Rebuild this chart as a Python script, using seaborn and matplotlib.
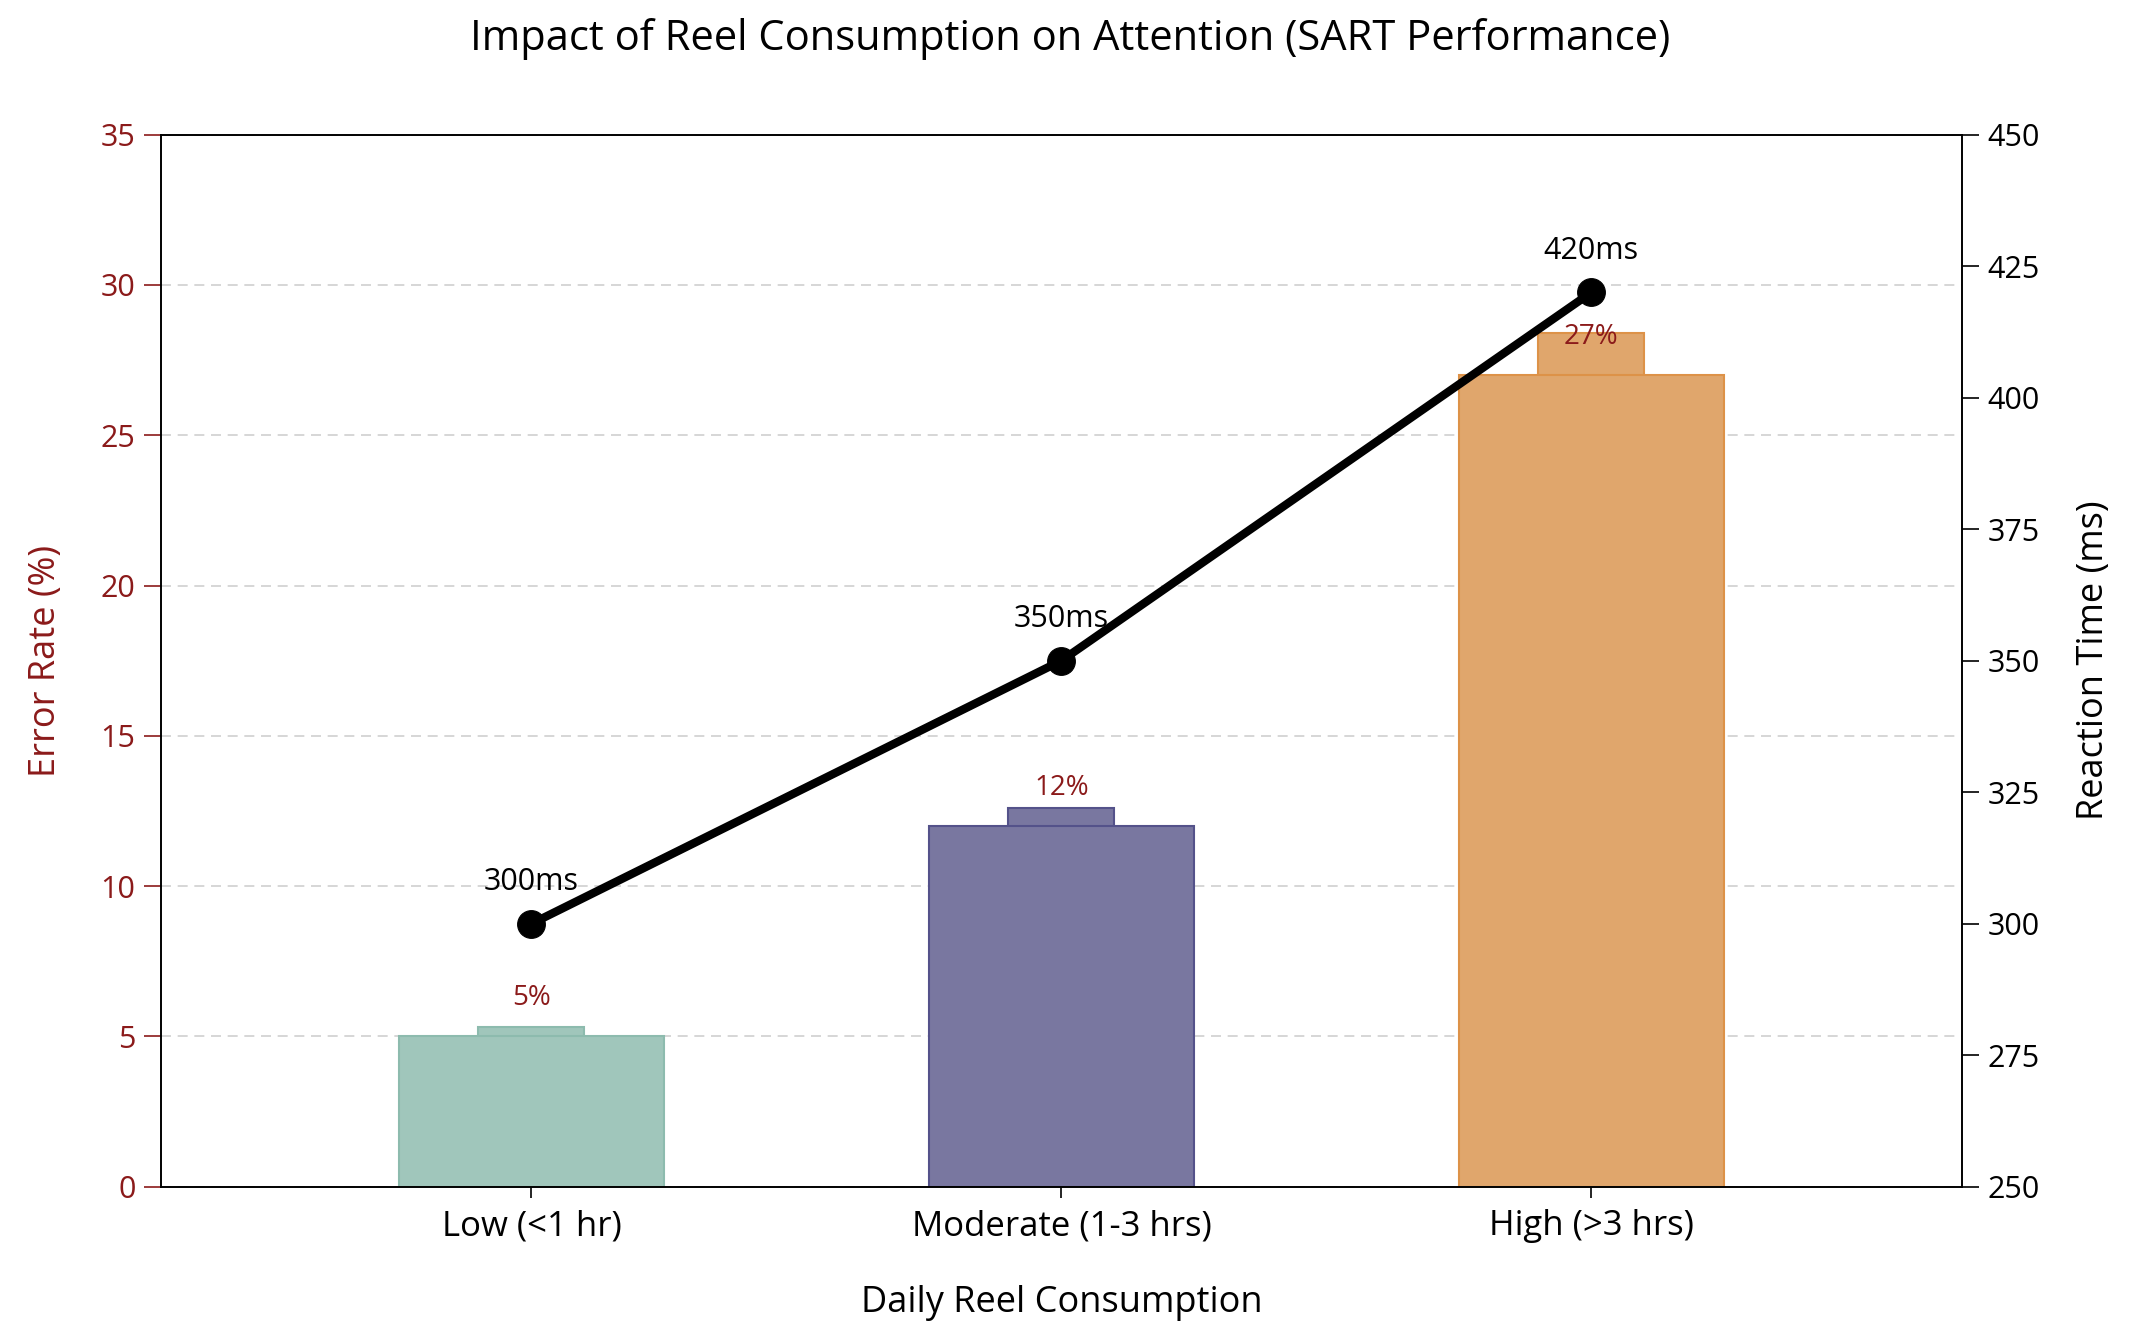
import numpy as np
import matplotlib
matplotlib.use("Agg")
import matplotlib.pyplot as plt
import seaborn as sns

# data
categories = ["Low (<1 hr)", "Moderate (1-3 hrs)", "High (>3 hrs)"]
error_rates = [5, 12, 27]
cap_tops = [5.3, 12.6, 28.4]
reaction_times = [300, 350, 420]
bar_colors = ["#A0C6BB", "#7977A0", "#E0A66C"]
edge_colors = ["#8DBBAE", "#54528A", "#DD9248"]

sns.set_theme(style="white")
plt.rcParams["font.family"] = ["Open Sans", "DejaVu Sans"]
plt.rcParams["text.color"] = "black"
plt.rcParams["axes.labelcolor"] = "black"

dark_red = "#8B1A1A"

fig, ax = plt.subplots(figsize=(21.4, 13.32), dpi=100)
fig.subplots_adjust(left=0.075, right=0.917, top=0.899, bottom=0.109)

ax.set_axisbelow(True)
ax.yaxis.grid(True, linestyle=(0, (6, 4)), color="#d0d0d0", linewidth=1.2)

# narrow caps drawn first, main bars on top
sns.barplot(x=categories, y=cap_tops, hue=categories, palette=bar_colors,
            saturation=1, width=0.2, legend=False, ax=ax, linewidth=1.5)
for patch, ec in zip(ax.patches, edge_colors):
    patch.set_edgecolor(ec)
n_caps = len(ax.patches)
sns.barplot(x=categories, y=error_rates, hue=categories, palette=bar_colors,
            saturation=1, width=0.5, legend=False, ax=ax, linewidth=1.5)
for patch, ec in zip(ax.patches[n_caps:], edge_colors):
    patch.set_edgecolor(ec)

for i, v in enumerate(error_rates):
    ax.text(i, v + 0.8, f"{v}%", ha="center", va="bottom", fontsize=20, color=dark_red)

ax.set_xlim(-0.7, 2.7)
ax.set_ylim(0, 35)
ax.set_yticks(range(0, 36, 5))
ax.set_ylabel("Error Rate (%)", fontsize=26, color=dark_red, labelpad=26)
ax.set_xlabel("Daily Reel Consumption", fontsize=26, labelpad=30, color="black")
ax.tick_params(axis="y", colors=dark_red, labelsize=22, length=12, width=1.2,
               pad=6, left=True)
ax.tick_params(axis="x", labelsize=25, length=8, width=1.2, pad=8,
               bottom=True, colors="black")
for lab in ax.get_yticklabels():
    lab.set_color(dark_red)

ax2 = ax.twinx()
x_pos = np.arange(len(categories))
sns.lineplot(x=x_pos, y=reaction_times, ax=ax2, color="black", linewidth=6,
             marker="o", markersize=20, markeredgecolor="black")
for x, rt in zip(x_pos, reaction_times):
    ax2.annotate(f"{rt}ms", (x, rt), xytext=(0, 30), textcoords="offset points",
                 ha="center", va="center", fontsize=22, color="black")
ax2.set_ylim(250, 450)
ax2.set_yticks(range(250, 451, 25))
ax2.set_ylabel("Reaction Time (ms)", fontsize=26, labelpad=26, color="black")
ax2.tick_params(axis="y", labelsize=22, length=12, width=1.2, pad=6,
                right=True, colors="black")
ax2.grid(False)

for a in (ax, ax2):
    for s in a.spines.values():
        s.set_color("black")
        s.set_linewidth(1.2)

fig.text(0.5, 0.971, "Impact of Reel Consumption on Attention (SART Performance)",
         ha="center", va="center", fontsize=30, color="black")

fig.savefig("out.png", dpi=100)
